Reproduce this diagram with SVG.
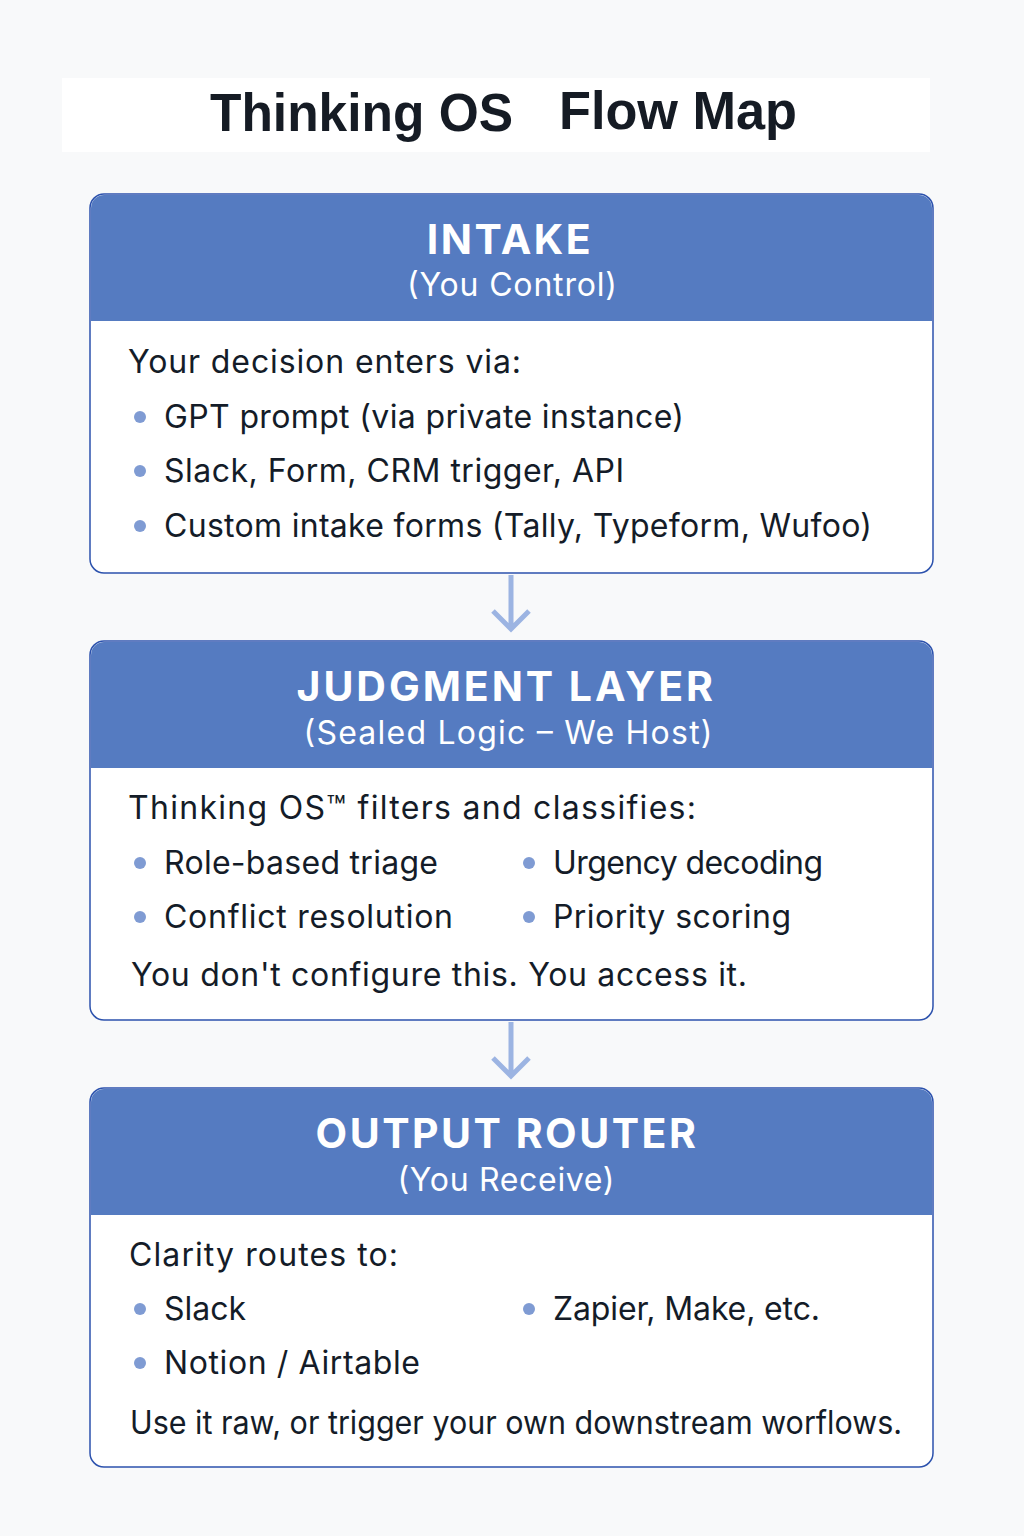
<svg xmlns="http://www.w3.org/2000/svg" width="1024" height="1536" viewBox="0 0 1024 1536">
<style>
.hdr{fill:#557bc1}
.frame{fill:#ffffff;stroke:#2c52ad;stroke-width:1.5}
.t1{font-family:Inter,"Open Sans",sans-serif;font-weight:700;font-size:41px;fill:#ffffff;text-anchor:middle;letter-spacing:2.5px}
.t2{font-family:Inter,"Open Sans",sans-serif;font-size:32px;fill:#ffffff;text-anchor:middle}
.b{font-family:Inter,"Open Sans",sans-serif;font-size:32px;fill:#141c28}
.dot{fill:#7f9bd3}
.arr{stroke:#9cb4e2;stroke-width:5;fill:none}
</style>
<rect width="1024" height="1536" fill="#f8f9fa"/>
<rect x="62" y="78" width="868" height="74" fill="#ffffff"/>
<text x="210" y="131" font-family="Liberation Sans,Arial,sans-serif" font-weight="700" font-size="54" fill="#151b24" textLength="303" lengthAdjust="spacingAndGlyphs">Thinking OS</text>
<text x="559" y="129" font-family="Liberation Sans,Arial,sans-serif" font-weight="700" font-size="54" fill="#151b24" textLength="238" lengthAdjust="spacingAndGlyphs">Flow Map</text>

<g id="connectors">
<path class="arr" d="M511 575V629M493 611L511 629L529 611"/>
<path class="arr" d="M511 1022V1076M493 1058L511 1076L529 1058"/>
</g>

<g id="intake">
<rect class="frame" x="90" y="194" width="843" height="379" rx="14"/>
<path class="hdr" d="M91 321V208A13 13 0 0 1 104 195H919A13 13 0 0 1 932 208V321Z"/>
<text class="t1" x="510" y="254">INTAKE</text>
<text class="t2" x="512" y="296" textLength="210">(You Control)</text>
<text class="b" x="128" y="373" textLength="393">Your decision enters via:</text>
<circle class="dot" cx="140" cy="417" r="6"/><text class="b" x="164" y="428" textLength="520">GPT prompt (via private instance)</text>
<circle class="dot" cx="140" cy="471" r="6"/><text class="b" x="164" y="482" textLength="460">Slack, Form, CRM trigger, API</text>
<circle class="dot" cx="140" cy="526" r="6"/><text class="b" x="164" y="537" textLength="708">Custom intake forms (Tally, Typeform, Wufoo)</text>
</g>

<g id="judgment">
<rect class="frame" x="90" y="641" width="843" height="379" rx="14"/>
<path class="hdr" d="M91 768V655A13 13 0 0 1 104 642H919A13 13 0 0 1 932 655V768Z"/>
<text class="t1" x="506" y="701" textLength="419">JUDGMENT LAYER</text>
<text class="t2" x="508" y="744" textLength="409">(Sealed Logic – We Host)</text>
<text class="b" x="128" y="819" textLength="568">Thinking OS™ filters and classifies:</text>
<circle class="dot" cx="140" cy="863" r="6"/><text class="b" x="164" y="874" textLength="274">Role-based triage</text>
<circle class="dot" cx="529" cy="863" r="6"/><text class="b" x="553" y="874" textLength="270">Urgency decoding</text>
<circle class="dot" cx="140" cy="917" r="6"/><text class="b" x="164" y="928" textLength="289">Conflict resolution</text>
<circle class="dot" cx="529" cy="917" r="6"/><text class="b" x="553" y="928" textLength="238">Priority scoring</text>
<text class="b" x="131" y="986" textLength="616">You don't configure this. You access it.</text>
</g>

<g id="output">
<rect class="frame" x="90" y="1088" width="843" height="379" rx="14"/>
<path class="hdr" d="M91 1215V1102A13 13 0 0 1 104 1089H919A13 13 0 0 1 932 1102V1215Z"/>
<text class="t1" x="507" y="1148">OUTPUT ROUTER</text>
<text class="t2" x="506" y="1191" textLength="217">(You Receive)</text>
<text class="b" x="129" y="1266" textLength="269">Clarity routes to:</text>
<circle class="dot" cx="140" cy="1309" r="6"/><text class="b" x="164" y="1320" textLength="82">Slack</text>
<circle class="dot" cx="529" cy="1309" r="6"/><text class="b" x="553" y="1320" textLength="267">Zapier, Make, etc.</text>
<circle class="dot" cx="140" cy="1363" r="6"/><text class="b" x="164" y="1374" textLength="256">Notion / Airtable</text>
<text class="b" x="130" y="1434" textLength="772" lengthAdjust="spacingAndGlyphs">Use it raw, or trigger your own downstream worflows.</text>
</g>
</svg>
